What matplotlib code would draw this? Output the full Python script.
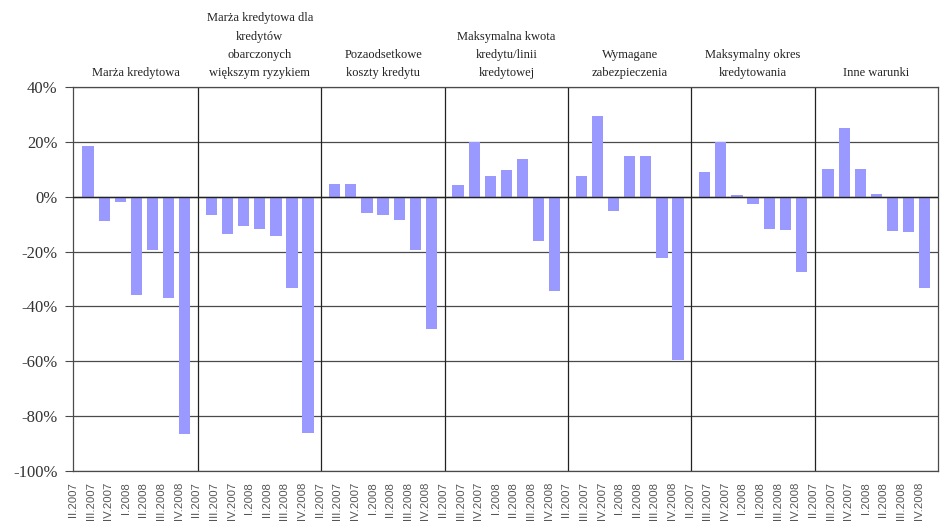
import matplotlib.pyplot as plt
import matplotlib.transforms as mtransforms
import numpy as np

quarters = ["II.2007", "III.2007", "IV.2007", "I.2008", "II.2008", "III.2008", "IV.2008"]

groups = [
    "Marża kredytowa",
    "Marża kredytowa dla\nkredytów\nobarczonych\nwiększym ryzykiem",
    "Pozaodsetkowe\nkoszty kredytu",
    "Maksymalna kwota\nkredytu/linii\nkredytowej",
    "Wymagane\nzabezpieczenia",
    "Maksymalny okres\nkredytowania",
    "Inne warunki",
]

# percent changes per quarter, one list per category
marza = [18.3, -9.0, -1.9, -35.8, -19.5, -36.9, -86.7]
marza_ryzyko = [-6.5, -13.6, -10.8, -11.8, -14.4, -33.3, -86.0]
koszty = [4.6, 4.6, -5.9, -6.7, -8.6, -19.3, -48.4]
kwota = [4.1, 20.1, 7.6, 9.8, 13.7, -16.1, -34.5]
zabezpieczenia = [7.6, 29.5, -5.3, 15.0, 15.0, -22.5, -59.5]
okres = [9.0, 20.1, 0.5, -2.5, -11.9, -12.0, -27.4]
inne = [10.2, 25.2, 10.2, 1.0, -12.5, -12.8, -33.3]

series = [marza, marza_ryzyko, koszty, kwota, zabezpieczenia, okres, inne]

yticks = [40, 20, 0, -20, -40, -60, -80, -100]

n = len(quarters)
bar_color = "#9999FF"
line_color = "#4a4a4a"

fig = plt.figure(figsize=(9.42, 5.27), dpi=100)
ax = fig.add_axes([0.0775, 0.1063, 0.9183, 0.7287])

xs, hs, tick_pos, tick_lab = [], [], [], []
for g, vals in enumerate(series):
    start = g * n
    for i, v in enumerate(vals):
        xs.append(start + n / 2 + (i - (n - 1) / 2) * 0.915)
        hs.append(v)
        tick_pos.append(start + i - 0.1)
        tick_lab.append(quarters[i])

ax.bar(xs, hs, width=0.64, color=bar_color, zorder=2)

ax.set_xlim(0, n * len(groups))
ax.set_ylim(-100, 40)

for y in yticks:
    ax.axhline(y, color=line_color, lw=0.9, zorder=1)
ax.axhline(0, color="#222222", lw=1.0, zorder=3)
for g in range(1, len(groups)):
    ax.axvline(g * n, color="#222222", lw=0.9, zorder=1)

for s in ax.spines.values():
    s.set_color(line_color)
    s.set_linewidth(0.9)

ax.set_yticks(yticks)
ax.set_yticklabels([f"{y}%" for y in yticks], family="Liberation Serif", fontsize=12, color="#333333")
ax.tick_params(axis="y", direction="out", length=6, color=line_color, pad=5)

ax.set_xticks(tick_pos)
ax.set_xticklabels(tick_lab, rotation=90, family="Liberation Sans", fontsize=8.2, color="#555555")
ax.tick_params(axis="x", length=0, pad=8)

trans = mtransforms.blended_transform_factory(ax.transData, ax.transAxes)
for g, name in enumerate(groups):
    ax.text(g * n + n / 2, 1.02, name, transform=trans, ha="center", va="bottom",
            family="Liberation Serif", fontsize=9, linespacing=1.7, color="#222222")

fig.savefig("out.png", dpi=100)
